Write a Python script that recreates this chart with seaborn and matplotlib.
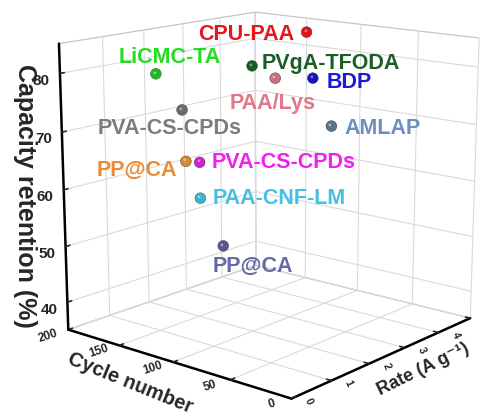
import numpy as np
import matplotlib
matplotlib.use("Agg")
import matplotlib.pyplot as plt
import seaborn as sns
from matplotlib import transforms as mtransforms
from matplotlib.path import Path
from matplotlib.markers import MarkerStyle

# Binder comparison: cycle number, rate and capacity retention
materials = ["CPU-PAA", "LiCMC-TA", "PVgA-TFODA", "PAA/Lys", "BDP",
             "PVA-CS-CPDs", "AMLAP", "PP@CA", "PVA-CS-CPDs", "PAA-CNF-LM", "PP@CA"]
cycles = [150, 150, 100, 100, 50, 200, 50, 150, 150, 100, 100]
rates = [5.0, 1.0, 2.0, 2.6, 2.05, 2.95, 2.55, 1.7, 2.05, 0.7, 1.25]
retention = [82.4, 80.0, 81.4, 78.5, 80.7, 69.3, 72.0, 63.8, 63.0, 61.3, 52.0]

rate_ticks = [0, 1, 2, 3, 4, 5]
cycle_ticks = [0, 50, 100, 150, 200]
retention_ticks = [40, 50, 60, 70, 80]

marker_colors = ["#d8141c", "#22b822", "#145c1e", "#c8707e", "#1414c0", "#6a6a6a",
                 "#5c7486", "#d8892c", "#d020d0", "#3cb4d4", "#58588c"]
text_colors = ["#e8141c", "#22dd22", "#1a5e24", "#e07888", "#1a1ad8", "#7c7c7c",
               "#6e8ebe", "#ea8c36", "#f020f0", "#44c0e4", "#6868a8"]
# name placement next to its marker: (dx px, dy px to cap centre, alignment)
label_place = [(-12, 0, "right"), (14, 18.5, "center"), (10, 5, "left"),
               (-46, -23.5, "left"), (14, -2, "left"), (-84, -16, "left"),
               (13, 0, "left"), (-9, -6.5, "right"), (12, 2, "left"),
               (12, 1.5, "left"), (-11, -18.5, "left")]

sns.set_theme(style="white")
plt.rcParams["font.family"] = ["Liberation Sans", "DejaVu Sans"]
plt.rcParams["font.weight"] = "bold"

W, H = 480, 418
fig = plt.figure(figsize=(W / 100, H / 100), dpi=100)
k = 1.173
ax = fig.add_axes([0.0409, -0.046, k * H / W, k], projection="3d")
ax.set_proj_type("persp", focal_length=0.6)
ax.view_init(elev=14, azim=-140)
ax.set_box_aspect((1, 1, 1.0))

ax.set_xlim(0, 5)
ax.set_ylim(0, 200)
ax.set_zlim(35, 85)
ax.set_xticks(rate_ticks)
ax.set_yticks(cycle_ticks)
ax.set_zticks(retention_ticks)
ax.set_xticklabels([])
ax.set_yticklabels([])

for axis in (ax.xaxis, ax.yaxis, ax.zaxis):
    axis.set_pane_color((1, 1, 1, 1))
    axis.pane.set_edgecolor("#c4c4c4")
    axis.pane.set_linewidth(0.9)
    axis._axinfo["grid"].update(color="#dadada", linewidth=0.8)
    axis._axinfo["tick"].update(inward_factor=0.0, outward_factor=0.25)
    axis._axinfo["tick"]["linewidth"] = {True: 1.2, False: 0.8}
    axis.line.set_color("black")
    axis.line.set_linewidth(1.8)

ax.tick_params(axis="z", labelsize=11, pad=0)

# spheres: base disc plus an off-centre highlight
ax.scatter(rates, cycles, retention, s=60, c=marker_colors, depthshade=False,
           edgecolors="#333333", linewidths=0.3)
shine = Path.circle(center=(-0.3, 0.3), radius=0.26)
shine_path = Path(np.vstack([[[-1, -1]], [[1, 1]], shine.vertices]),
                  np.concatenate([[Path.MOVETO, Path.MOVETO], shine.codes]))
ax.scatter(rates, cycles, retention, s=60, c="white", alpha=0.45,
           marker=MarkerStyle(shine_path), depthshade=False, linewidths=0)

px_trans = mtransforms.IdentityTransform()

# axis titles, set in screen space along the box edges
fig.text(25, H - 196, "Capacity retention (%)", fontsize=18, fontweight="bold",
         rotation=270, ha="center", va="center", transform=px_trans)
fig.text(130, H - 383, "Cycle number", fontsize=14.5, fontweight="bold",
         rotation=-22, ha="center", va="center", rotation_mode="anchor",
         transform=px_trans)
fig.text(423, H - 369, "Rate (A g\u207b\u00b9)", fontsize=13, fontweight="bold",
         rotation=26, ha="center", va="center", rotation_mode="anchor",
         transform=px_trans)

fig.canvas.draw()


def to_screen(r, c, z):
    pts = np.column_stack([r, c, z, np.ones(len(r))])
    proj = pts @ np.asarray(ax.M).T
    return ax.transData.transform(proj[:, :2] / proj[:, 3:4])


# tick labels of the two floor axes
z_floor = ax.get_zlim()[0]
cyc_pos = to_screen(np.zeros(len(cycle_ticks)), np.array(cycle_ticks, float),
                    np.full(len(cycle_ticks), z_floor))
for val, (px, py) in zip(cycle_ticks, cyc_pos):
    fig.text(px - 20, py - 6, str(val), fontsize=8.5, fontweight="bold", rotation=18,
             ha="center", va="center", rotation_mode="anchor", transform=px_trans)
rate_pos = to_screen(np.array(rate_ticks, float), np.zeros(len(rate_ticks)),
                     np.full(len(rate_ticks), z_floor))
for val, (px, py) in zip(rate_ticks, rate_pos):
    fig.text(px + 17, py - 3, str(val), fontsize=7.5, fontweight="bold", rotation=-65,
             ha="center", va="center", rotation_mode="anchor", transform=px_trans)

# names next to the projected markers
screen = to_screen(np.array(rates), np.array(cycles, float), np.array(retention))
name_size = 15.5
half_cap = 0.716 * name_size * 100 / 72 / 2
for name, (px, py), col, (dx, dy, ha) in zip(materials, screen, text_colors, label_place):
    fig.text(px + dx, py + dy - half_cap, name, color=col, fontsize=name_size,
             fontweight="bold", ha=ha, va="baseline", transform=px_trans)

fig.savefig("out.png", dpi=100)
